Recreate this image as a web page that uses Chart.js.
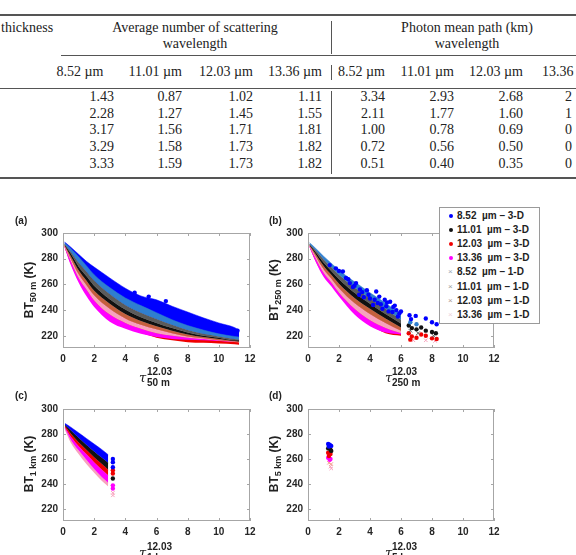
<!DOCTYPE html>
<html>
<head>
<meta charset="utf-8">
<script src="https://cdn.jsdelivr.net/npm/chart.js@4.4.1/dist/chart.umd.min.js"></script>
<style>
body { margin:0; width:576px; height:555px; overflow:hidden; background:#fff; position:relative; font-family:"Liberation Sans", Arial, sans-serif; }
.t { position:absolute; font-family:"Liberation Serif", "Times New Roman", serif; font-size:14px; line-height:14px; color:#222; white-space:nowrap; }
.rule { position:absolute; background:#555; }
canvas { position:absolute; }
.lab { position:absolute; font-weight:bold; font-size:10px; line-height:10px; color:#222; white-space:nowrap; }
.yl { position:absolute; font-weight:bold; font-size:12px; line-height:12px; color:#222; white-space:nowrap; transform:translate(-50%,-50%) rotate(-90deg); }
.yl sub { font-size:9px; line-height:0; }
.tau { position:absolute; font-family:"DejaVu Serif", serif; font-style:italic; font-size:13px; line-height:14px; color:#222; }
#legend { position:absolute; left:439px; top:207px; width:99px; height:115px; border:1px solid #9a9a9a; background:#fff; z-index:5; }
#legend .it { position:absolute; left:17px; font-weight:bold; font-size:10px; line-height:10px; color:#222; white-space:nowrap; }
#legend .mk { position:absolute; left:9px; width:4px; height:4px; border-radius:2px; }
#legend .mx { position:absolute; left:8px; font-size:8px; line-height:8px; }
</style>
</head>
<body>

<!-- table texts are added by the script -->
<div id="tbl"></div>

<canvas id="chA" width="280" height="170" style="left:0px;top:222px"></canvas>
<canvas id="chB" width="296" height="170" style="left:280px;top:222px"></canvas>
<canvas id="chC" width="280" height="157" style="left:0px;top:398px"></canvas>
<canvas id="chD" width="296" height="157" style="left:280px;top:398px"></canvas>

<div class="lab" style="left:15px;top:216px">(a)</div>
<div class="lab" style="left:269px;top:216px">(b)</div>
<div class="lab" style="left:15px;top:391px">(c)</div>
<div class="lab" style="left:269px;top:391px">(d)</div>

<div class="yl" style="left:29px;top:290px">BT<sub>50 m</sub> (K)</div>
<div class="yl" style="left:274px;top:290px">BT<sub>250 m</sub> (K)</div>
<div class="yl" style="left:29px;top:464px">BT<sub>1 km</sub> (K)</div>
<div class="yl" style="left:274px;top:464px">BT<sub>5 km</sub> (K)</div>

<!-- tau labels under the x axes -->
<div class="tau" style="left:139px;top:371px">τ</div>
<div class="lab" style="left:147px;top:367px">12.03</div>
<div class="lab" style="left:147px;top:378px">50 m</div>
<div class="tau" style="left:385px;top:371px">τ</div>
<div class="lab" style="left:392px;top:367px">12.03</div>
<div class="lab" style="left:392px;top:378px">250 m</div>
<div class="tau" style="left:139px;top:546px">τ</div>
<div class="lab" style="left:147px;top:542px">12.03</div>
<div class="lab" style="left:147px;top:553px">1 km</div>
<div class="tau" style="left:385px;top:546px">τ</div>
<div class="lab" style="left:392px;top:542px">12.03</div>
<div class="lab" style="left:392px;top:553px">5 km</div>

<div id="legend"></div>

<script>
// ---------- table data ----------
const wlLabels = ['8.52 µm', '11.01 µm', '12.03 µm', '13.36 µm'];
const nScatter = [
    [1.43, 0.87, 1.02, 1.11],
    [2.28, 1.27, 1.45, 1.55],
    [3.17, 1.56, 1.71, 1.81],
    [3.29, 1.58, 1.73, 1.82],
    [3.33, 1.59, 1.73, 1.82]
];
const meanPath = [
    [3.34, 2.93, 2.68],
    [2.11, 1.77, 1.60],
    [1.00, 0.78, 0.69],
    [0.72, 0.56, 0.50],
    [0.51, 0.40, 0.35]
];
const meanPathCut = ['2', '1', '0', '0', '0']; // last column is cut by the page edge

// ---------- scatter data ----------
const yTicks = [220, 240, 260, 280, 300];

// (a) 50 m, dense bands: upper / lower edges at these x
const xA = [0.1, 0.5, 1, 1.5, 2, 3, 4, 5, 6, 7, 8, 9, 10, 11, 11.3];
const aBlueTop  = [293, 289, 283.5, 278, 273.5, 265, 257, 251, 248, 243, 238.5, 234, 230, 226.5, 224.5];
const aSteelTop = [292.5, 288, 281.5, 274.5, 267.5, 257.5, 249.5, 243.5, 238, 232.5, 228, 224.5, 221.5, 219.5, 219];
const aSteelBot = [291.5, 285.5, 277, 270, 263, 252.5, 244, 238, 233, 228.5, 224.5, 221.5, 219.5, 217.5, 217];
const aGrayMid  = [291, 284, 274, 266.5, 259, 248.5, 240.5, 234.5, 230, 226, 222.5, 220, 218.5, 216.5, 216.5];
const aBlackBot = [290.5, 282, 271, 263, 255, 245, 237, 231.5, 227.5, 224, 221, 219, 217.5, 216, 215.5];
const aBrownBot = [290, 280, 268, 259.5, 251.5, 241, 233.5, 228.5, 225, 222, 219.5, 218, 216.5, 215.5, 215];
const aPinkBot  = [289.5, 278, 265, 256, 247.5, 236.5, 230, 225.5, 222, 220, 218.5, 217.5, 216.5, 216, 216];
const aMagBot   = [289, 275, 261.5, 251, 242.5, 231, 225.5, 221.5, 219, 217.5, 217, 216.5, 216, 215.5, 215.5];
const aRedBot   = [289, 276, 263, 253.5, 245, 233, 227.5, 222.5, 218.5, 216.5, 215, 214.5, 214, 213.5, 213];
const aBlueDotX = [4.6, 5.5, 6.6, 9.6, 10.2, 10.5, 11.2];
const aBlueDotY = [253.5, 250.5, 247, 229, 225.5, 224.5, 224];

// (b) 250 m
const xB = [0.1, 0.5, 1, 1.5, 2, 3, 4, 5, 6];
const bSteelTop = [292.5, 288, 282, 276.5, 271, 262, 253.5, 245.5, 236.5];
const bSteelBot = [291.5, 286.5, 279.5, 273.5, 267.5, 257.5, 249, 241, 232.5];
const bGrayMid  = [291, 285, 277, 270.5, 264, 253.5, 245, 237, 229.5];
const bBlackBot = [290.5, 283.5, 274.5, 267.5, 260.5, 249.5, 241, 233.5, 226.5];
const bBrownBot = [290, 282, 272, 264.5, 257, 245.5, 237, 230, 224];
const bPinkBot  = [289.5, 280, 269, 261.5, 253.5, 241, 232, 226, 222];
const bMagBot   = [289, 277.5, 266, 258.5, 250.5, 236.5, 227.5, 222.5, 221];
const bRedBot   = [289, 278, 267, 260, 252, 238, 229, 222, 220];
const bBlueX = [1.4, 1.8, 2.0, 2.25, 2.45, 2.6, 2.7, 2.9, 3.0, 3.1, 3.3, 3.35, 3.5, 3.6, 3.8, 3.9, 4.0, 4.2, 4.3, 4.4, 4.5, 4.6, 4.7, 4.8, 4.95, 5.05, 5.1, 5.2, 5.3, 5.45, 5.5, 5.6, 5.7, 5.8, 5.9, 6.0, 6.55, 6.65, 6.95, 7.6, 8.0, 8.3];
const bBlueY = [275, 272.5, 270.5, 270, 265, 264, 261, 258, 259, 261, 252, 256, 254, 250, 255.5, 252, 249, 244, 248, 254.5, 245.5, 250.5, 244.5, 241, 248, 243, 246, 239, 246.5, 238.5, 242.5, 243.5, 240, 235, 237.5, 239, 236, 233, 235.5, 233.5, 230.5, 229];
const bBlackX = [6.5, 6.7, 7.0, 7.3, 7.6, 8.0, 8.25];
const bBlackY = [228, 226, 225, 226.5, 224, 223, 222];
const bRedX = [6.5, 6.6, 6.7, 7.0, 7.3, 7.6, 8.0, 8.3];
const bRedY = [222, 217, 219.5, 218.5, 221, 220, 218, 217.5];
const bSteelX = [6.6, 7.0];
const bSteelY = [230.5, 229];
const bGrayX = [6.6, 7.1, 8.1];
const bGrayY = [224, 222, 220];
const bPinkX = [6.8, 7.6, 8.2];
const bPinkY = [216.5, 216.5, 216];

// (c) 1 km
const xC = [0.13, 0.5, 1, 1.5, 2, 2.5, 2.9];
const cBlueTop  = [288.5, 285.5, 281, 276.5, 272, 267.5, 263.5];
const cBlueBot  = [287.5, 283, 277, 271.5, 266, 261, 257];
const cBlackBot = [286.5, 280.5, 273.5, 267.5, 261.5, 256, 251.5];
const cRedBot   = [285.5, 278, 270.5, 264, 257.5, 251.5, 247];
const cMagBot   = [284.5, 275.5, 267, 259.5, 252, 245.5, 241];
const cPinkBot  = [283, 273, 264, 256, 249, 242.5, 238];
const cColX = 3.2;
const cColBlue = [260, 257.5, 253.5];
const cColRed = [251, 248.5];
const cColBlack = [244.5];
const cColMag = [239, 236.5];
const cColPink = [233, 231];

// (d) 5 km
const dBlueX = [1.3, 1.4, 1.5, 1.35];
const dBlueY = [272, 271.5, 270.5, 270];
const dBlackX = [1.3, 1.45, 1.5];
const dBlackY = [268.5, 267.5, 266.5];
const dRedX = [1.3, 1.45, 1.35];
const dRedY = [265, 264, 262.5];
const dMagX = [1.3, 1.45, 1.4];
const dMagY = [261, 260, 259.5];
const dSalmonX = [1.35, 1.5];
const dSalmonY = [257, 256];
const dPinkX = [1.45, 1.5];
const dPinkY = [254, 252.5];

// series colours
const C = {
    blue: '#0000ff', steel: '#2f7fcf', black: '#111111', gray: '#5b5b5b',
    red: '#f00000', brown: '#c4603e', magenta: '#ff00ff', pink: '#f7a3bd'
};

// ---------- table ----------
function addText(txt, x, y, align) {
    var d = document.createElement('div');
    d.className = 't';
    d.textContent = txt;
    d.style.top = (y - 7) + 'px';
    if (align === 'right') d.style.right = (576 - x) + 'px';
    else if (align === 'center') { d.style.left = x + 'px'; d.style.transform = 'translateX(-50%)'; }
    else d.style.left = x + 'px';
    document.body.appendChild(d);
}
function addRule(x, y, w, h) {
    var d = document.createElement('div');
    d.className = 'rule';
    d.style.left = x + 'px'; d.style.top = y + 'px';
    d.style.width = w + 'px'; d.style.height = h + 'px';
    document.body.appendChild(d);
}

function buildTable() {
    const headRight = [103.5, 182, 253, 322, 385, 454, 523];
    const colRight = [114, 182, 253, 322, 385, 454, 523];
    const rowY = [97, 113.5, 130, 147, 164];

    addRule(0, 14, 576, 2);
    addText('thickness', 1, 28, 'left');
    addText('Average number of scattering', 195, 28, 'center');
    addText('wavelength', 195, 44, 'center');
    addText('Photon mean path (km)', 467, 28, 'center');
    addText('wavelength', 467, 44, 'center');
    addRule(61, 55, 515, 1);

    for (let i = 0; i < 7; i++) {
        addText(wlLabels[i % 4], headRight[i], 72, 'right');
    }
    addText('13.36', 542, 72, 'left');
    addRule(0, 88, 576, 1);

    rowY.forEach((y, r) => {
        nScatter[r].forEach((v, c) => addText(v.toFixed(2), colRight[c], y, 'right'));
        meanPath[r].forEach((v, c) => addText(v.toFixed(2), colRight[c + 4], y, 'right'));
        addText(meanPathCut[r], 565, y, 'left');
    });
    addRule(0, 177, 576, 2);

    // vertical separator
    addRule(331, 21, 1, 33);
    addRule(331, 65, 1, 15);
    addRule(331, 91, 1, 83);
}

// ---------- legend ----------
function buildLegend() {
    const items = [
        ['8.52', '3-D', C.blue, false], ['11.01', '3-D', C.black, false],
        ['12.03', '3-D', C.red, false], ['13.36', '3-D', C.magenta, false],
        ['8.52', '1-D', '#9aa6b4', true], ['11.01', '1-D', '#9a9a9a', true],
        ['12.03', '1-D', '#b09a96', true], ['13.36', '1-D', '#ecd2da', true]
    ];
    const lg = document.getElementById('legend');
    items.forEach((it, i) => {
        const y = 8 + i * 14.1;
        var m = document.createElement('div');
        if (it[3]) {
            m.className = 'mx'; m.textContent = '×'; m.style.color = it[2];
            m.style.top = (y - 4) + 'px';
        } else {
            m.className = 'mk'; m.style.background = it[2];
            m.style.top = (y - 2) + 'px';
        }
        lg.appendChild(m);
        var t = document.createElement('div');
        t.className = 'it';
        t.style.top = (y - 5) + 'px';
        t.textContent = it[0] + ' \u00a0µm – ' + it[1];
        lg.appendChild(t);
    });
}

// ---------- charts ----------
function pts(xs, ys) {
    return xs.map((x, i) => ({ x: x, y: ys[i] }));
}
function colPts(x, ys) {
    return ys.map(y => ({ x: x, y: y }));
}

// a filled band = upper line filled down to the next (lower) line
function band(xs, top, bot, color, label) {
    return [
        { label: label, data: pts(xs, top), fill: '+1', backgroundColor: color, borderColor: color,
          borderWidth: 0.5, pointRadius: 0, cubicInterpolationMode: 'monotone' },
        { label: label + ' low', data: pts(xs, bot), fill: false, borderWidth: 0, pointRadius: 0,
          cubicInterpolationMode: 'monotone' }
    ];
}
function dots(data, color, label, cross) {
    return {
        label: label, data: data, showLine: false,
        pointRadius: cross ? 2.5 : 2.2, pointStyle: cross ? 'crossRot' : 'circle',
        pointBackgroundColor: color, pointBorderColor: color, pointBorderWidth: cross ? 1 : 0
    };
}

const boxPlugin = {
    id: 'matlabBox',
    afterDraw(chart) {
        const { ctx, chartArea: a, scales } = chart;
        ctx.save();
        ctx.strokeStyle = '#a6a6a6';
        ctx.lineWidth = 1;
        ctx.strokeRect(Math.round(a.left) + 0.5, Math.round(a.top) + 0.5, Math.round(a.width) - 1, Math.round(a.height) - 1);
        ctx.beginPath();
        scales.x.ticks.forEach(t => {
            const px = Math.round(scales.x.getPixelForValue(t.value)) + 0.5;
            ctx.moveTo(px, a.bottom); ctx.lineTo(px, a.bottom - 3);
            ctx.moveTo(px, a.top); ctx.lineTo(px, a.top + 3);
        });
        scales.y.ticks.forEach(t => {
            const py = Math.round(scales.y.getPixelForValue(t.value)) + 0.5;
            ctx.moveTo(a.left, py); ctx.lineTo(a.left + 3, py);
            ctx.moveTo(a.right, py); ctx.lineTo(a.right - 3, py);
        });
        ctx.stroke();
        ctx.restore();
    }
};

function makePanel(id, left, top, area, datasets) {
    const cv = document.getElementById(id);
    const w = cv.width, h = cv.height;
    const tickFont = { family: 'Liberation Sans', size: 10, weight: 'bold' };
    return new Chart(cv.getContext('2d'), {
        type: 'line',
        data: { datasets: datasets },
        options: {
            responsive: false,
            animation: false,
            events: [],
            layout: { padding: { left: 0, top: area.t - top, right: left + w - area.r, bottom: 0 } },
            plugins: { legend: { display: false }, tooltip: { enabled: false } },
            scales: {
                x: {
                    type: 'linear', min: 0, max: 12,
                    ticks: { stepSize: 2, color: '#262626', font: tickFont, padding: 5, maxRotation: 0 },
                    grid: { display: false, drawTicks: false }, border: { display: false },
                    afterFit: s => { s.height = top + h - area.b; }
                },
                y: {
                    type: 'linear', min: 210.5, max: 300,
                    afterBuildTicks: s => { s.ticks = yTicks.map(v => ({ value: v })); },
                    ticks: { color: '#262626', font: tickFont, padding: 5 },
                    grid: { display: false, drawTicks: false }, border: { display: false },
                    afterFit: s => { s.width = area.l - left; }
                }
            }
        },
        plugins: [boxPlugin]
    });
}

document.addEventListener('DOMContentLoaded', () => {
    buildTable();
    buildLegend();

    // first dataset is drawn on top
    makePanel('chA', 0, 222, { l: 63, t: 233, r: 250, b: 348 }, [
        dots(pts(aBlueDotX, aBlueDotY), C.blue, '8.52 3-D dots'),
        ...band(xA, aSteelTop, aSteelBot, C.steel, '8.52 µm – 1-D'),
        ...band(xA, aSteelBot, aGrayMid, C.gray, '11.01 µm – 1-D'),
        ...band(xA, aGrayMid, aBlackBot, C.black, '11.01 µm – 3-D'),
        ...band(xA, aBlackBot, aBrownBot, C.brown, '12.03 µm – 1-D'),
        ...band(xA, aBrownBot, aPinkBot, C.pink, '13.36 µm – 1-D'),
        ...band(xA, aPinkBot, aMagBot, C.magenta, '13.36 µm – 3-D'),
        ...band(xA, aBrownBot, aRedBot, C.red, '12.03 µm – 3-D'),
        ...band(xA, aBlueTop, aSteelBot, C.blue, '8.52 µm – 3-D')
    ]);

    makePanel('chB', 280, 222, { l: 308, t: 233, r: 494, b: 348 }, [
        dots(pts(bBlueX, bBlueY), C.blue, '8.52 µm – 3-D'),
        dots(pts(bSteelX, bSteelY), C.steel, '8.52 µm – 1-D tail'),
        dots(pts(bBlackX, bBlackY), C.black, '11.01 µm – 3-D tail'),
        dots(pts(bGrayX, bGrayY), C.gray, '11.01 µm – 1-D tail', true),
        dots(pts(bRedX, bRedY), C.red, '12.03 µm – 3-D tail'),
        dots(pts(bPinkX, bPinkY), C.pink, '13.36 µm – 1-D tail', true),
        ...band(xB, bSteelTop, bSteelBot, C.steel, '8.52 µm – 1-D'),
        ...band(xB, bSteelBot, bGrayMid, C.gray, '11.01 µm – 1-D'),
        ...band(xB, bGrayMid, bBlackBot, C.black, '11.01 µm – 3-D'),
        ...band(xB, bBlackBot, bBrownBot, C.brown, '12.03 µm – 1-D'),
        ...band(xB, bBrownBot, bPinkBot, C.pink, '13.36 µm – 1-D'),
        ...band(xB, bPinkBot, bMagBot, C.magenta, '13.36 µm – 3-D'),
        ...band(xB, bBrownBot, bRedBot, C.red, '12.03 µm – 3-D')
    ]);

    makePanel('chC', 0, 398, { l: 63, t: 407, r: 250, b: 521 }, [
        dots(colPts(cColX, cColBlue), C.blue, '8.52 col'),
        dots(colPts(cColX, cColRed), C.red, '12.03 col'),
        dots(colPts(cColX, cColBlack), C.black, '11.01 col'),
        dots(colPts(cColX, cColMag), C.magenta, '13.36 col'),
        dots(colPts(cColX, cColPink), C.pink, '13.36 1-D col', true),
        ...band(xC, cBlueTop, cBlueBot, C.blue, '8.52 µm – 3-D'),
        ...band(xC, cBlueBot, cBlackBot, C.black, '11.01 µm – 3-D'),
        ...band(xC, cBlackBot, cRedBot, C.red, '12.03 µm – 3-D'),
        ...band(xC, cRedBot, cMagBot, C.magenta, '13.36 µm – 3-D'),
        ...band(xC, cMagBot, cPinkBot, C.pink, '13.36 µm – 1-D')
    ]);

    makePanel('chD', 280, 398, { l: 308, t: 407, r: 494, b: 521 }, [
        dots(pts(dBlueX, dBlueY), C.blue, '8.52 µm – 3-D'),
        dots(pts(dBlackX, dBlackY), C.black, '11.01 µm – 3-D'),
        dots(pts(dRedX, dRedY), C.red, '12.03 µm – 3-D'),
        dots(pts(dMagX, dMagY), C.magenta, '13.36 µm – 3-D'),
        dots(pts(dSalmonX, dSalmonY), '#f2a08c', '12.03 µm – 1-D', true),
        dots(pts(dPinkX, dPinkY), C.pink, '13.36 µm – 1-D', true)
    ]);
});
</script>
</body>
</html>
